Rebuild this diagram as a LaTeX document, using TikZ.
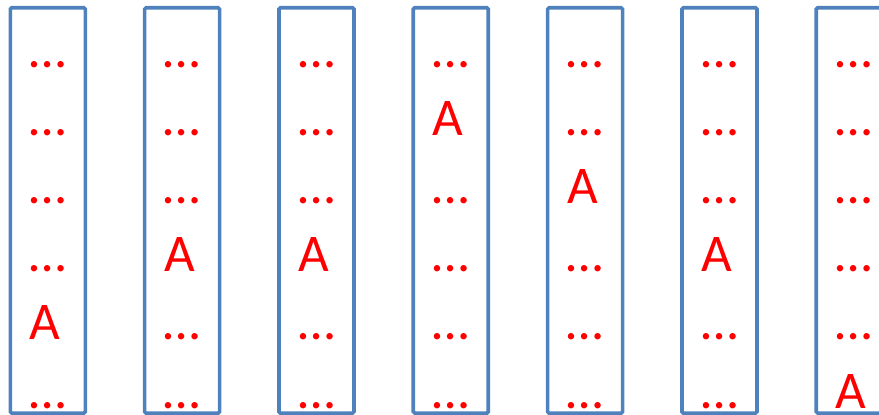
\documentclass[tikz,border=0pt]{standalone}
\usepackage{fontspec}
\setmainfont{Carlito}
\definecolor{boxblue}{RGB}{79,129,189}
\definecolor{txtred}{RGB}{255,0,0}
\begin{document}
\begin{tikzpicture}[x=1pt,y=1pt,
  colbox/.style={draw=boxblue,line width=3.6pt,rounded corners=1.5pt,minimum width=75pt,minimum height=405.5pt,inner sep=0pt,outer sep=0pt,anchor=north west},
  cell/.style={text=txtred,font=\fontsize{53}{60}\selectfont,anchor=base,inner sep=0pt}]
\useasboundingbox (0,0) rectangle (879,-415);
\foreach \c/\a in {1/5,2/4,3/4,4/2,5/3,6/4,7/6}{
  \pgfmathsetmacro{\lx}{10.3+134.33*(\c-1)}
  \pgfmathsetmacro{\cx}{\lx+37.5}
  \pgfmathsetmacro{\ax}{\cx-2.5}
  \node[colbox] (box\c) at (\lx,-7.7) {};
  \foreach \r in {1,...,6}{
    \pgfmathsetmacro{\by}{-(67+68.2*(\r-1))}
    \ifnum\r=\a
      \node[cell] (t\c-\r) at (\ax,\by) {A};
    \else
      \node[cell] (t\c-\r) at (\cx,\by) {…};
    \fi
  }
}
\end{tikzpicture}
\end{document}
